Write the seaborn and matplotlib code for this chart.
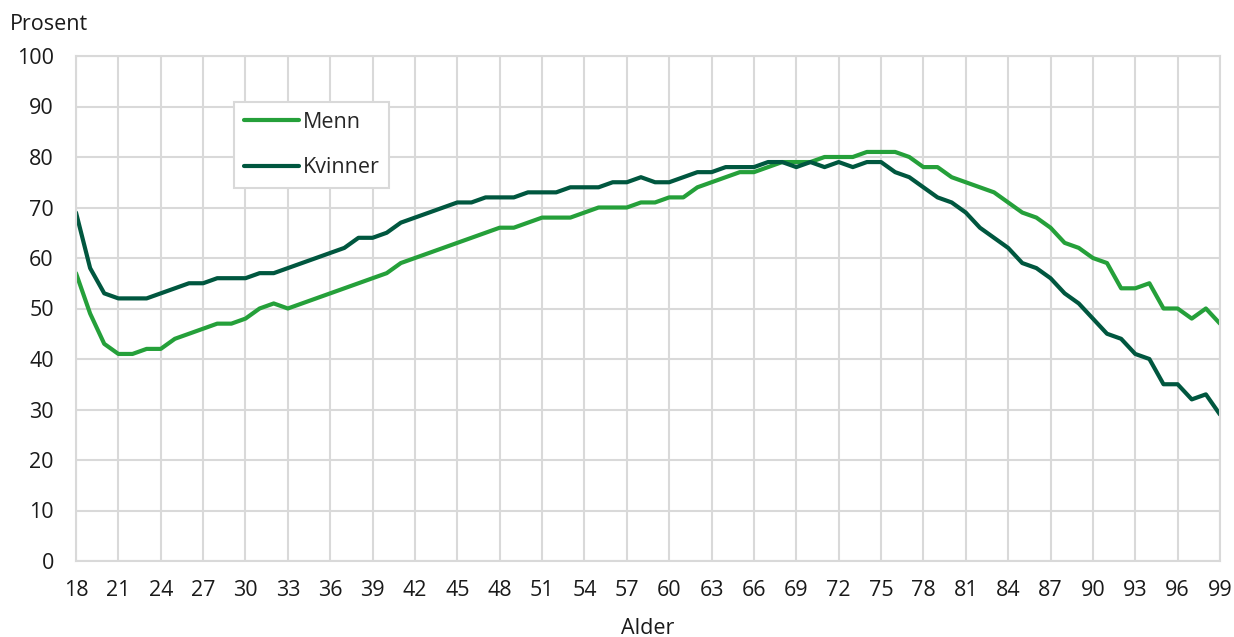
import numpy as np
import pandas as pd
import matplotlib
matplotlib.use("Agg")
import matplotlib.pyplot as plt
import seaborn as sns

ages = list(range(18, 100))
menn = [57, 49, 43, 41, 41, 42, 42, 44, 45, 46, 47, 47, 48, 50, 51, 50, 51, 52, 53, 54,
        55, 56, 57, 59, 60, 61, 62, 63, 64, 65, 66, 66, 67, 68, 68, 68, 69, 70, 70, 70,
        71, 71, 72, 72, 74, 75, 76, 77, 77, 78, 79, 79, 79, 80, 80, 80, 81, 81, 81, 80,
        78, 78, 76, 75, 74, 73, 71, 69, 68, 66, 63, 62, 60, 59, 54, 54, 55, 50, 50, 48,
        50, 47]
kvinner = [69, 58, 53, 52, 52, 52, 53, 54, 55, 55, 56, 56, 56, 57, 57, 58, 59, 60, 61, 62,
           64, 64, 65, 67, 68, 69, 70, 71, 71, 72, 72, 72, 73, 73, 73, 74, 74, 74, 75, 75,
           76, 75, 75, 76, 77, 77, 78, 78, 78, 79, 79, 78, 79, 78, 79, 78, 79, 79, 77, 76,
           74, 72, 71, 69, 66, 64, 62, 59, 58, 56, 53, 51, 48, 45, 44, 41, 40, 35, 35, 32,
           33, 29]
series_names = ["Menn", "Kvinner"]
colors = ["#25a03a", "#00573f"]
x_ticks = list(range(18, 100, 3))
y_ticks = list(range(0, 101, 10))

df = pd.DataFrame({
    "Alder": ages * 2,
    "Prosent": menn + kvinner,
    "Kjønn": [series_names[0]] * len(ages) + [series_names[1]] * len(ages),
})

FS = 15.5
sns.set_style("white")
plt.rcParams["font.family"] = ["Open Sans", "DejaVu Sans"]
plt.rcParams["font.size"] = FS

fig = plt.figure(figsize=(12.34, 6.37), dpi=100)
ax = fig.add_axes([76 / 1234, 1 - 561 / 637, (1220 - 76) / 1234, (561 - 56) / 637])

sns.lineplot(data=df, x="Alder", y="Prosent", hue="Kjønn", palette=colors,
             linewidth=3.0, ax=ax, legend=True)

grid_c = "#d9d9d9"
ax.set_xlim(18, 99)
ax.set_ylim(0, 100)
ax.set_xticks(x_ticks)
ax.set_yticks(y_ticks)
ax.grid(True, color=grid_c, linewidth=1.5)
ax.set_axisbelow(True)
for s in ax.spines.values():
    s.set_color(grid_c)
    s.set_linewidth(1.5)
ax.tick_params(axis="both", length=0, labelsize=FS, colors="#1a1a1a")
ax.tick_params(axis="x", pad=14)
ax.tick_params(axis="y", pad=16)
ax.set_xlabel("")
ax.set_ylabel("")

fig.text(10 / 1234, 1 - 25 / 637, "Prosent", ha="left", va="center", fontsize=FS, color="#1a1a1a")
fig.text(648 / 1234, 1 - 628 / 637, "Alder", ha="center", va="center", fontsize=FS, color="#1a1a1a")

leg = ax.legend(loc="upper left", bbox_to_anchor=((234 - 76) / 1144, (561 - 102) / 505),
                borderaxespad=0, frameon=True, fancybox=False, fontsize=FS,
                handlelength=2.55, handletextpad=0.2, labelspacing=1.15, borderpad=0.45)
leg.get_frame().set_edgecolor(grid_c)
leg.get_frame().set_linewidth(1.5)
leg.get_frame().set_facecolor("white")
leg.get_frame().set_alpha(1)

fig.savefig("out.png", dpi=100, facecolor="white")
